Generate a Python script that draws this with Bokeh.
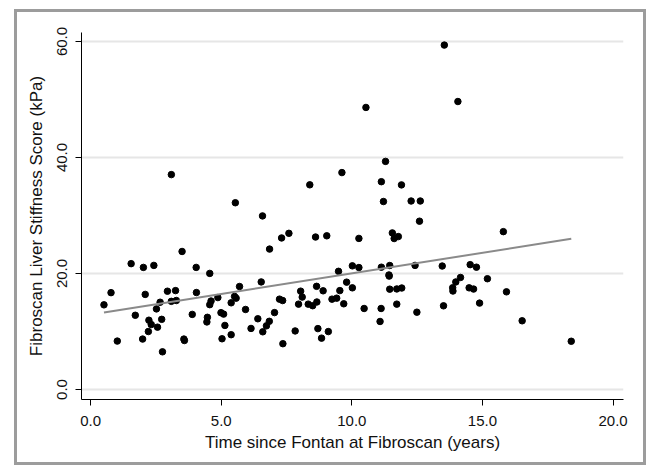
import numpy as np
from bokeh.plotting import figure
from bokeh.models import Range1d, FixedTicker, PrintfTickFormatter, ColumnDataSource
from bokeh.embed import file_html
from bokeh.resources import INLINE

years = [0.51, 0.78, 1.02, 1.55, 1.71, 2.02, 1.99, 2.09, 2.23, 2.21, 2.32, 2.42, 2.52, 2.56,
         2.66, 2.72, 2.75, 2.94, 3.09, 3.09, 3.25, 3.28, 3.50, 3.57, 3.59, 3.89, 4.04, 4.05,
         4.45, 4.47, 4.56, 4.56, 4.61, 4.87, 4.99, 5.09, 5.03, 5.14, 5.38, 5.38, 5.51, 5.57,
         5.54, 5.70, 5.93, 6.14, 6.40, 6.53, 6.58, 6.59, 6.73, 6.84, 6.85, 7.04, 7.23, 7.31,
         7.36, 7.35, 7.59, 7.83, 7.96, 8.04, 8.10, 8.33, 8.39, 8.50, 8.61, 8.65, 8.66, 8.70,
         8.84, 8.90, 9.04, 9.10, 9.24, 9.42, 9.49, 9.54, 9.62, 9.69, 9.80, 10.02, 10.02, 10.27,
         10.27, 10.47, 10.54, 11.08, 11.12, 11.13, 11.13, 11.21, 11.29, 11.42, 11.45, 11.43,
         11.45, 11.55, 11.62, 11.78, 11.72, 11.72, 11.90, 11.91, 12.27, 12.42, 12.49, 12.59,
         12.62, 13.46, 13.51, 13.54, 13.86, 13.87, 13.98, 14.06, 14.16, 14.49, 14.53, 14.66,
         14.77, 14.89, 15.19, 15.80, 15.92, 16.52, 18.40]
stiffness = [14.6, 16.7, 8.35, 21.7, 12.8, 21.05, 8.7, 16.4, 11.95, 10.0, 11.2, 21.4, 13.9, 10.75,
             15.05, 12.1, 6.5, 16.95, 37.05, 15.2, 17.05, 15.35, 23.8, 8.7, 8.45, 12.95, 21.05, 16.72,
             11.65, 12.45, 20.02, 14.63, 15.26, 15.85, 13.25, 13.0, 8.75, 11.05, 9.45, 14.95, 16.05, 15.75,
             32.2, 17.76, 13.8, 10.53, 12.2, 18.55, 29.93, 9.95, 10.98, 11.76, 24.21, 13.26, 15.58, 26.13,
             7.9, 15.34, 26.93, 10.1, 14.72, 16.96, 15.93, 14.72, 35.29, 14.45, 26.29, 17.79, 15.09, 10.5,
             8.86, 17.02, 26.5, 9.99, 15.58, 15.75, 20.38, 17.05, 37.4, 14.78, 18.51, 21.32, 17.53, 21.03,
             26.05, 13.97, 48.63, 11.73, 13.97, 21.09, 35.83, 32.41, 39.33, 19.75, 21.38, 19.55,
             17.3, 27.0, 26.03, 26.37, 14.72, 17.34, 35.28, 17.5, 32.5, 21.4, 13.33, 29.02,
             32.5, 21.29, 14.43, 59.38, 17.55, 16.98, 18.55, 49.65, 19.32, 17.53, 21.53, 17.32,
             21.09, 14.9, 19.1, 27.22, 16.84, 11.85, 8.32]

x_ticks = [0, 5, 10, 15, 20]
y_ticks = [0, 20, 40, 60]

x_title = "Time since Fontan at Fibroscan (years)"
y_title = "Fibroscan Liver Stiffness Score (kPa)"

xa = np.array(years)
ya = np.array(stiffness)
slope, intercept = np.polyfit(xa, ya, 1)
fit_x = [xa.min(), xa.max()]
fit_y = [intercept + slope * v for v in fit_x]

p = figure(width=632, height=456, output_backend="svg", toolbar_location=None,
           x_range=Range1d(-0.35, 20.4), y_range=Range1d(-1.72, 61.55),
           min_border_left=64, min_border_right=26, min_border_top=20, min_border_bottom=69)
p.margin = (9, 0, 0, 14)
p.styles = {"border": "3px solid #9c9c9c", "box-sizing": "border-box"}

p.outline_line_color = None
p.background_fill_color = "white"
p.border_fill_color = "white"

p.xgrid.grid_line_color = None
p.ygrid.ticker = FixedTicker(ticks=y_ticks)
p.ygrid.grid_line_color = "#e6e6e6"
p.ygrid.grid_line_width = 2

for ax in (p.xaxis[0], p.yaxis[0]):
    ax.axis_line_color = "black"
    ax.axis_line_width = 1
    ax.major_tick_line_color = "black"
    ax.major_tick_out = 6
    ax.major_tick_in = 0
    ax.minor_tick_line_color = None
    ax.major_label_text_font = "Liberation Sans"
    ax.major_label_text_font_size = "15px"
    ax.major_label_text_color = "#111111"
    ax.axis_label_text_font = "Liberation Sans"
    ax.axis_label_text_font_size = "17px"
    ax.axis_label_text_font_style = "normal"
    ax.axis_label_text_color = "#111111"
    ax.formatter = PrintfTickFormatter(format="%.1f")

p.xaxis.ticker = FixedTicker(ticks=x_ticks)
p.yaxis.ticker = FixedTicker(ticks=y_ticks)
p.xaxis.axis_label = x_title
p.yaxis.axis_label = y_title
p.yaxis.major_label_orientation = "vertical"
p.xaxis.major_label_standoff = 10
p.yaxis.major_label_standoff = 8
p.xaxis.axis_label_standoff = 4
p.yaxis.axis_label_standoff = 9

src = ColumnDataSource(dict(x=years, y=stiffness))
p.scatter("x", "y", source=src, size=6.5, color="black")
p.line(fit_x, fit_y, line_color="#8a8a8a", line_width=2)

open("out.html", "w").write(file_html(p, INLINE))
